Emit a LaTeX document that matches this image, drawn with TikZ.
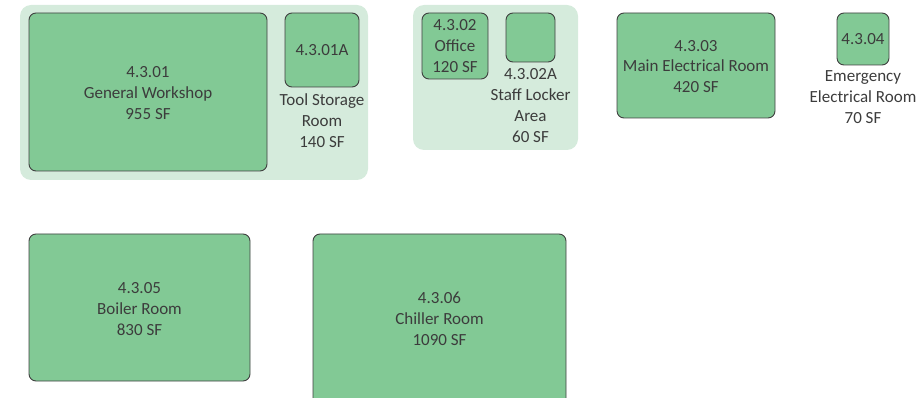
\documentclass[tikz,border=0pt]{standalone}
\usepackage{fontspec}
\setmainfont{Carlito}
\usepackage{tikz}
\usetikzlibrary{positioning}
\definecolor{roomfill}{RGB}{130,201,149}
\definecolor{groupfill}{RGB}{213,235,220}
\definecolor{roomedge}{RGB}{64,64,64}
\definecolor{roomtext}{RGB}{60,60,60}

\begin{document}
\begin{tikzpicture}[
    x=1pt, y=-1pt,
    room/.style={rectangle, rounded corners=7pt, draw=roomedge, line width=0.9pt,
                 fill=roomfill, text=roomtext, align=center, inner sep=0pt,
                 font=\fontsize{17}{20.8}\selectfont},
    group/.style={rectangle, rounded corners=11pt, fill=groupfill, inner sep=0pt},
    lbl/.style={align=center, text=roomtext, inner sep=0pt,
                font=\fontsize{17}{20.8}\selectfont}
]
    \useasboundingbox (0,0) rectangle (921,398);
    % department groups
    \node[group, minimum width=348pt, minimum height=175pt] (wsgrp)  at (194,92.5) {};
    \node[group, minimum width=165pt, minimum height=145pt] (offgrp) at (495.5,77.5) {};
    % rooms
    \node[room, minimum width=238pt, minimum height=158pt] (wshop) at (148,92)
        {};
    \node[lbl] (wshoptxt) at (148,93) {4.3.01\\General Workshop\\955 SF};
    \node[room, minimum width=74pt, minimum height=74pt] (tool) at (322,50) {4.3.01A};
    \node[room, minimum width=66pt, minimum height=66pt] (office) at (455,46)
        {4.3.02\\Office\\120 SF};
    \node[room, minimum width=49pt, minimum height=49pt] (locker) at (530.5,37.5) {};
    \node[room, minimum width=158pt, minimum height=105pt] (mainel) at (696,65.5)
        {};
    \node[lbl] (maineltxt) at (696,66.5) {4.3.03\\Main Electrical Room\\420 SF};
    \node[room, minimum width=52pt, minimum height=52pt] (emerg) at (863,39) {4.3.04};
    \node[room, minimum width=221pt, minimum height=147pt] (boiler) at (139.5,307.5)
        {};
    \node[lbl] (boilertxt) at (139.5,309) {4.3.05\\Boiler Room\\830 SF};
    \node[room, minimum width=253pt, minimum height=176pt] (chiller) at (439.5,322)
        {};
    \node[lbl] (chilltxt) at (439.5,319) {4.3.06\\Chiller Room\\1090 SF};
    % labels under small rooms
    \node[lbl, below=6pt of tool]   (toollbl)   {Tool Storage\\Room\\140 SF};
    \node[lbl, below=6pt of locker] (lockerlbl) {4.3.02A\\Staff Locker\\Area\\60 SF};
    \node[lbl, below=5pt of emerg]  (emerglbl)  {Emergency\\Electrical Room\\70 SF};
\end{tikzpicture}
\end{document}
